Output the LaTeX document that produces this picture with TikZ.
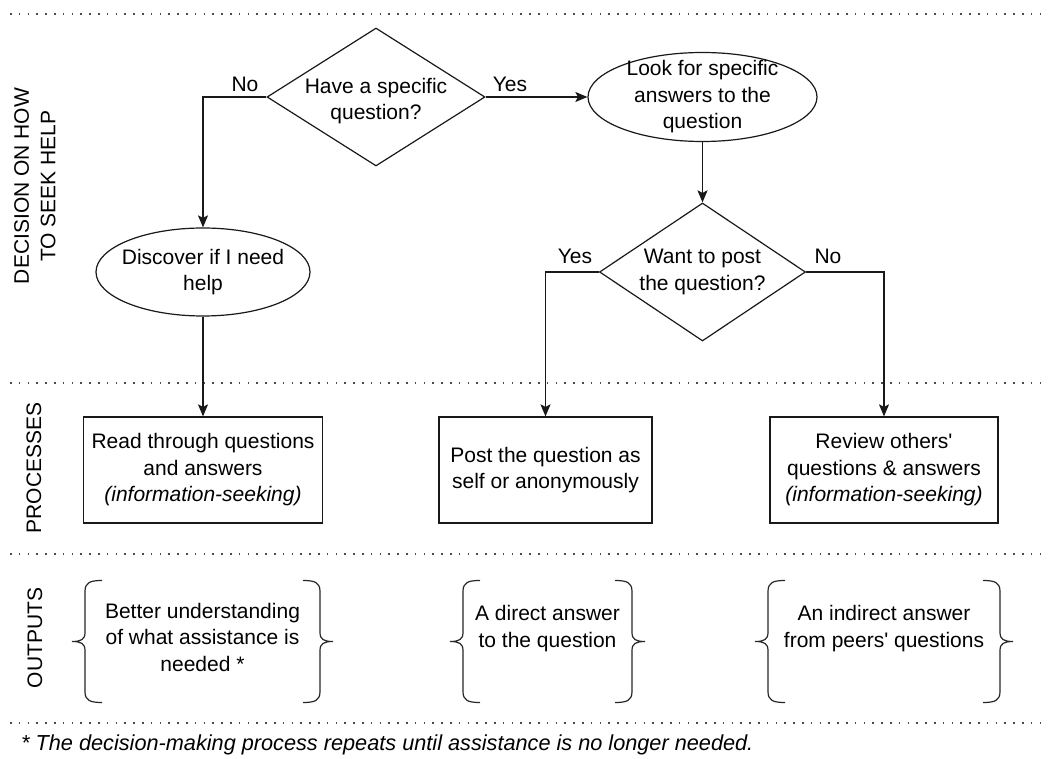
\documentclass[tikz,border=0pt]{standalone}
\usepackage{fontspec}
\setmainfont{Liberation Sans}
\usetikzlibrary{shapes.geometric,arrows.meta}

\tikzset{
  txt/.style={font=\fontsize{21}{26.5}\selectfont, text=black},
  shapeline/.style={draw=black!90, line width=1.2pt},
  flow/.style={draw=black!90, line width=1.3pt},
  arr/.style={flow, -{Stealth[length=12pt,width=10pt,inset=2.5pt]}},
  decision/.style={txt, shape=diamond, shapeline, inner sep=0pt, align=center},
  terminal/.style={txt, shape=ellipse, shapeline, inner xsep=-10pt, inner ysep=-8pt, align=center},
  process/.style={txt, shape=rectangle, shapeline, minimum height=106pt, inner sep=0pt, align=center},
  outtext/.style={txt, align=center, inner sep=0pt},
  lane/.style={txt, rotate=90, align=center, inner sep=0pt},
  answer/.style={txt, anchor=base, inner sep=0pt},
  separator/.style={draw=black!70, line width=1.6pt, dash pattern=on 1.6pt off 7.2pt},
  brc/.style={draw=black!85, line width=1.2pt},
  brace shape/.pic={
    \draw[brc] (30,-61) .. controls (18,-61) and (13,-59) .. (13,-50)
      -- (13,-9) .. controls (13,-2) and (9,0) .. (0,0)
      .. controls (9,0) and (13,2) .. (13,9)
      -- (13,50) .. controls (13,59) and (18,61) .. (30,61);
  }
}
\newcommand{\apos}{\textquotesingle}

\begin{document}
\begin{tikzpicture}[x=1pt,y=-1pt]
  \useasboundingbox[fill=white] (0,0) rectangle (1050,759);

  % lane separators
  \coordinate (s1a) at (10,14);  \coordinate (s1b) at (1048,14);
  \coordinate (s2a) at (10,383); \coordinate (s2b) at (1048,383);
  \coordinate (s3a) at (10,554); \coordinate (s3b) at (1048,554);
  \coordinate (s4a) at (10,723); \coordinate (s4b) at (1048,723);
  \draw[separator] (s1a) -- (s1b);
  \draw[separator] (s2a) -- (s2b);
  \draw[separator] (s3a) -- (s3b);
  \draw[separator] (s4a) -- (s4b);

  % lane titles
  \node[lane] (laneA) at (35,186) {DECISION ON HOW\\TO SEEK HELP};
  \node[lane] (laneB) at (34,468) {PROCESSES};
  \node[lane] (laneC) at (35,638) {OUTPUTS};

  % decision lane
  \node[decision, aspect=1.58, minimum width=218pt, minimum height=138pt,
        label={[txt, align=center, inner sep=0pt, yshift=-4pt]center:Have a specific\\question?}]
    (q1) at (376,97) {};
  \node[terminal, minimum width=229pt, minimum height=89pt]
    (look) at (702.5,97) {Look for specific\\answers to the\\question};
  \node[terminal, minimum width=214pt, minimum height=88pt, inner xsep=-12pt]
    (disc) at (203,272) {Discover if I need\\help};
  \node[decision, aspect=1.49, minimum width=206pt, minimum height=138pt]
    (q2) at (702.5,272) {Want to post\\the question?};

  % processes lane
  \node[process, minimum width=239pt] (read) at (203,470)
    {Read through questions\\and answers\\\textit{(information-seeking)}};
  \node[process, minimum width=213pt] (post) at (545.5,470)
    {Post the question as\\self or anonymously};
  \node[process, minimum width=228pt] (review) at (884,470)
    {Review others\apos\\questions \& answers\\\textit{(information-seeking)}};

  % connectors
  \draw[arr] (q1.west) -| (disc.north);
  \draw[arr] (q1.east) -- (look.west);
  \draw[arr] (look.south) -- (q2.north);
  \draw[arr] (disc.south) -- (read.north);
  \draw[arr] (q2.west) -| (post.north);
  \draw[arr] (q2.east) -| (review.north);

  % branch labels
  \node[answer] (noA) at (245,92) {No};
  \node[answer] (yesA) at (510,92) {Yes};
  \node[answer] (yesB) at (575,264) {Yes};
  \node[answer] (noB) at (828,264) {No};

  % outputs lane
  \node[outtext] (outA) at (202.5,637)
    {Better understanding\\of what assistance is\\needed *};
  \node[outtext] (outB) at (547.5,628.5) {A direct answer\\to the question};
  \node[outtext] (outC) at (884,628.5) {An indirect answer\\from peers\apos{} questions};

  \pic at (72,641.5) {brace shape};
  \pic[xscale=-1] at (333,641.5) {brace shape};
  \pic at (450,641.5) {brace shape};
  \pic[xscale=-1] at (645,641.5) {brace shape};
  \pic at (755,641.5) {brace shape};
  \pic[xscale=-1] at (1013,641.5) {brace shape};

  % footnote
  \node[txt, anchor=base west, inner sep=0pt, font=\fontsize{21.7}{26.5}\selectfont\itshape]
    (note) at (21,750)
    {* The decision-making process repeats until assistance is no longer needed.};
\end{tikzpicture}
\end{document}
